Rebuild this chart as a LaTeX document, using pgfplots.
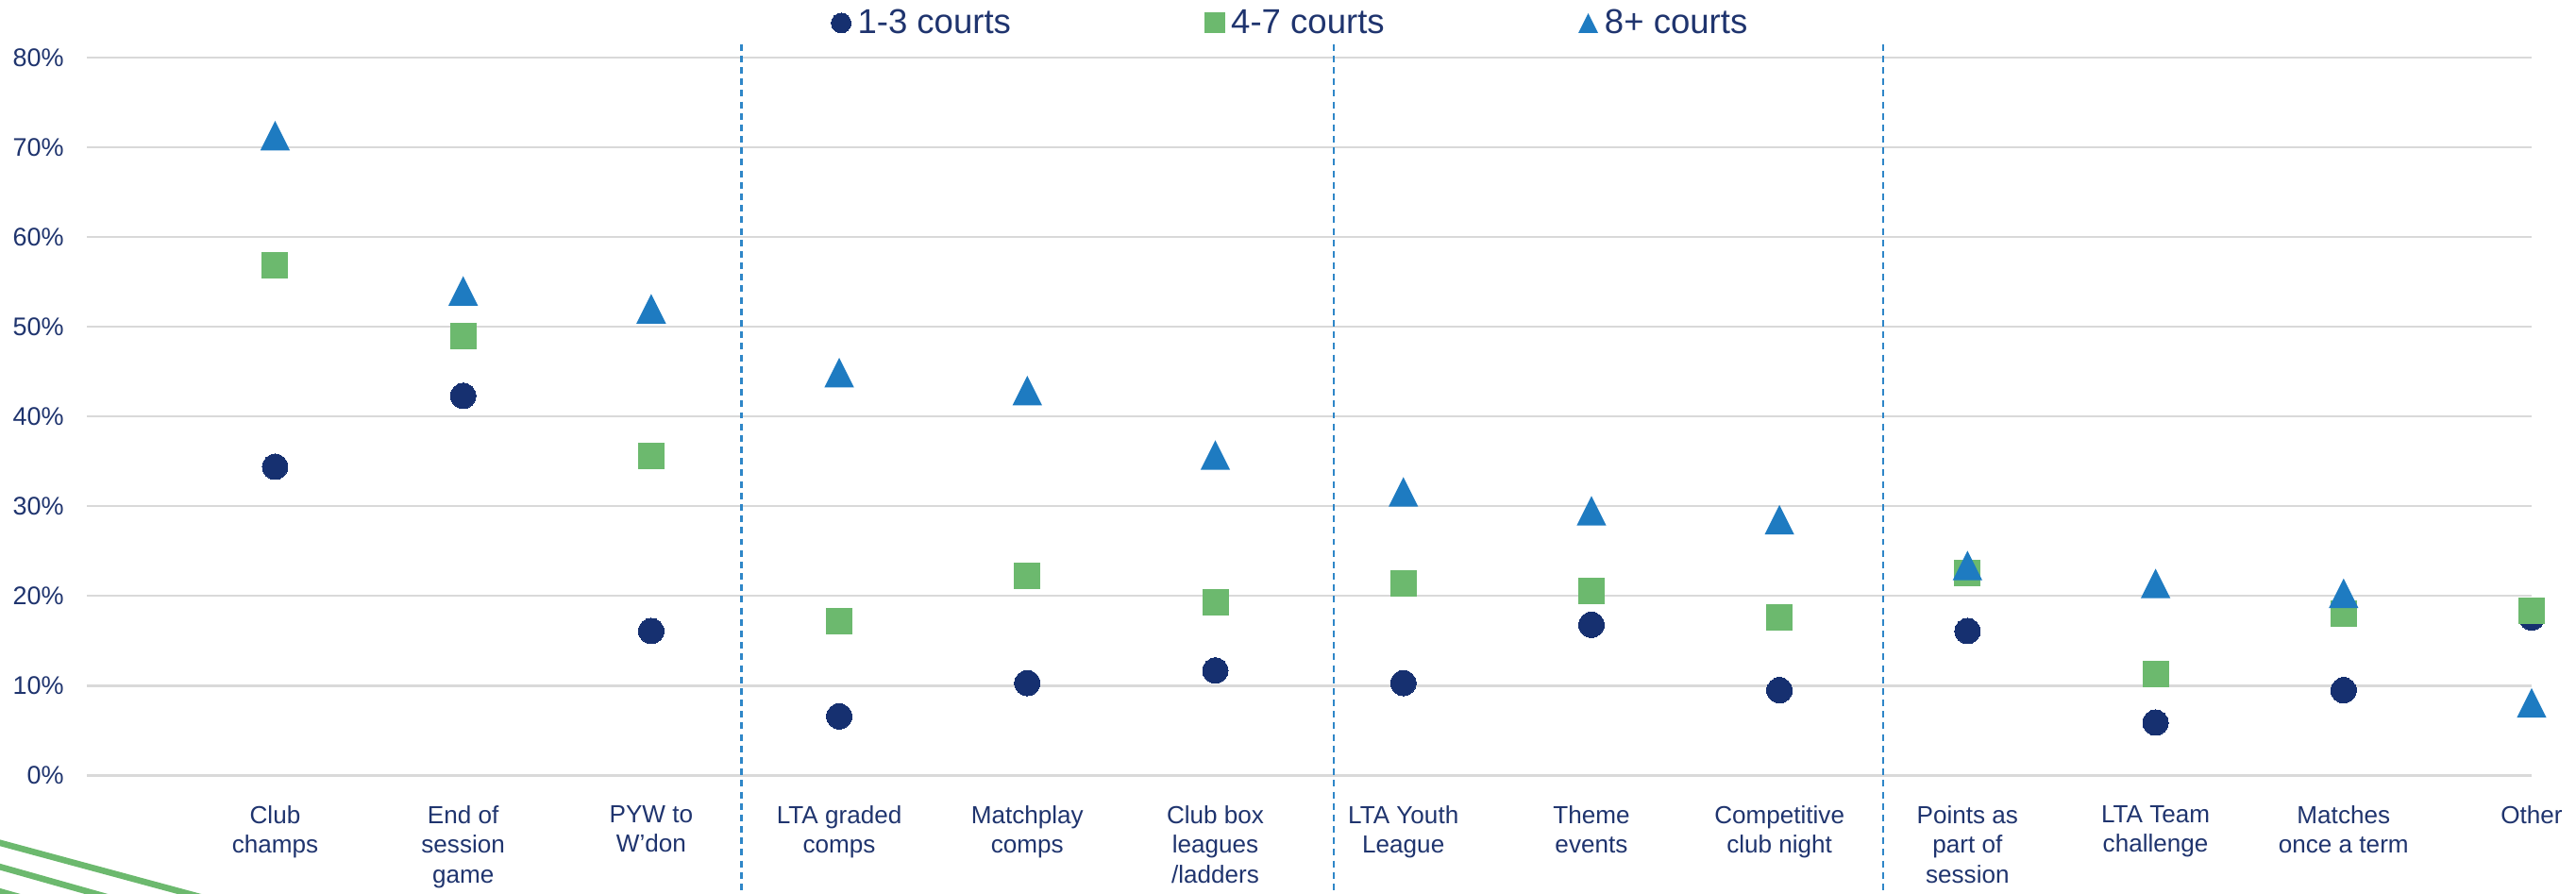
\documentclass[border=0pt]{standalone}
\usepackage{pgfplots}
\usepackage{pgfplotstable}
\pgfplotsset{compat=1.18}
\usepackage{fontspec}
\setmainfont{Liberation Sans}
\definecolor{navytext}{RGB}{31,52,110}
\definecolor{cnavy}{RGB}{22,48,112}
\definecolor{cgreen}{RGB}{108,185,110}
\definecolor{cblue}{RGB}{30,123,193}
\definecolor{cdash}{RGB}{46,134,200}
\definecolor{cgrid}{RGB}{217,217,217}
\pgfdeclareplotmark{xtri}{%
  \pgfpathmoveto{\pgfqpoint{0pt}{\pgfplotmarksize}}%
  \pgfpathlineto{\pgfqpoint{-\pgfplotmarksize}{-\pgfplotmarksize}}%
  \pgfpathlineto{\pgfqpoint{\pgfplotmarksize}{-\pgfplotmarksize}}%
  \pgfpathclose\pgfusepathqfill}
\pgfplotstableread{
x a b c
1 34.4 56.9 71.3
2 42.3 49.0 54.0
3 16.1 35.6 52.0
4 6.6 17.2 44.9
5 10.3 22.2 42.9
6 11.7 19.3 35.7
7 10.3 21.4 31.6
8 16.8 20.6 29.5
9 9.5 17.6 28.5
10 16.1 22.6 23.4
11 5.9 11.3 21.4
12 9.5 18.0 20.3
13 17.6 18.4 8.1
}\datatable
\begin{document}
\begin{tikzpicture}
\begin{axis}[name=ax, at={(0,0)}, anchor=south west,
  scale only axis, width=1488pt, height=437pt,
  xmin=0, xmax=13, ymin=0, ymax=80,
  clip=false,
  axis line style={draw=none},
  tick style={draw=none},
  major tick length=0pt,
  /pgf/number format/assume math mode=true,
  ytick={0,10,...,80},
  yticklabel={\pgfmathprintnumber{\tick}\%},
  yticklabel style={anchor=east, inner sep=0pt, xshift=-14pt, font=\fontsize{15.5}{18}\selectfont, text=navytext},
  ymajorgrids,
  grid style={cgrid, line width=1.3pt},
  xtick={1,...,13},
  xticklabels={{Club\\champs},{End of\\session\\game},{PYW to\\W’don},{LTA graded\\comps},{Matchplay\\comps},{Club box\\leagues\\/ladders},{LTA Youth\\League},{Theme\\events},{Competitive\\club night},{Points as\\part of\\session},{LTA Team\\challenge},{Matches\\once a term},{Other}},
  xticklabel style={anchor=north, inner sep=0pt, yshift=-18pt, align=center, font=\fontsize{15}{18.2}\selectfont, text=navytext},
  legend columns=3,
  legend image code/.code={\draw[#1] plot coordinates {(0pt,0pt)};},
  legend style={at={(axis description cs:0,1)}, anchor=west, xshift=453pt, yshift=21pt,
    draw=none, fill=none, inner sep=0pt, outer sep=0pt,
    nodes={inner sep=0pt, text=navytext, font=\fontsize{21}{24}\selectfont},
    /tikz/every odd column/.append style={column sep=4pt},
    /tikz/every even column/.append style={column sep=118pt}},
]
\addlegendimage{only marks, mark=*, mark size=6pt, cnavy, mark options={line width=0pt, draw=cnavy, fill=cnavy}}
\addlegendentry{1-3 courts}
\addlegendimage{only marks, mark=square*, mark size=6pt, cgreen, mark options={line width=0pt, draw=cgreen, fill=cgreen}}
\addlegendentry{4-7 courts}
\addlegendimage{only marks, mark=xtri, mark size=6pt, cblue, mark options={line width=0pt, draw=cblue, fill=cblue}}
\addlegendentry{8+ courts}
% separators
\addplot[forget plot, cdash, line width=1.2pt, dash pattern=on 4pt off 3pt] coordinates {(3.48,81.5) (3.48,-14)};
\addplot[forget plot, cdash, line width=1.2pt, dash pattern=on 4pt off 3pt] coordinates {(6.63,81.5) (6.63,-14)};
\addplot[forget plot, cdash, line width=1.2pt, dash pattern=on 4pt off 3pt] coordinates {(9.55,81.5) (9.55,-14)};
% data
\addplot[forget plot, only marks, cnavy, mark=*, mark size=7.75pt, mark options={line width=0pt, draw=cnavy, fill=cnavy}] table[x=x, y=a] {\datatable};
\addplot[forget plot, only marks, cgreen, mark=square*, mark size=7.75pt, mark options={line width=0pt, draw=cgreen, fill=cgreen}] table[x=x, y=b] {\datatable};
\addplot[forget plot, only marks, cblue, mark=xtri, mark size=9pt, mark options={line width=0pt, draw=cblue, fill=cblue}] table[x=x, y=c] {\datatable};
\end{axis}
\draw[cgreen, line width=3.8pt] ([shift={(-60pt,-39.1pt)}]ax.south west) -- ++(220pt,-59.4pt);
\draw[cgreen, line width=3.8pt] ([shift={(-60pt,-53.6pt)}]ax.south west) -- ++(220pt,-62pt);
\draw[cgreen, line width=3.8pt] ([shift={(-60pt,-68.6pt)}]ax.south west) -- ++(220pt,-62pt);
\pgfresetboundingbox
\path ([shift={(-53pt,-72pt)}]ax.south west) rectangle ++(1568pt,544pt);
\end{tikzpicture}
\end{document}
